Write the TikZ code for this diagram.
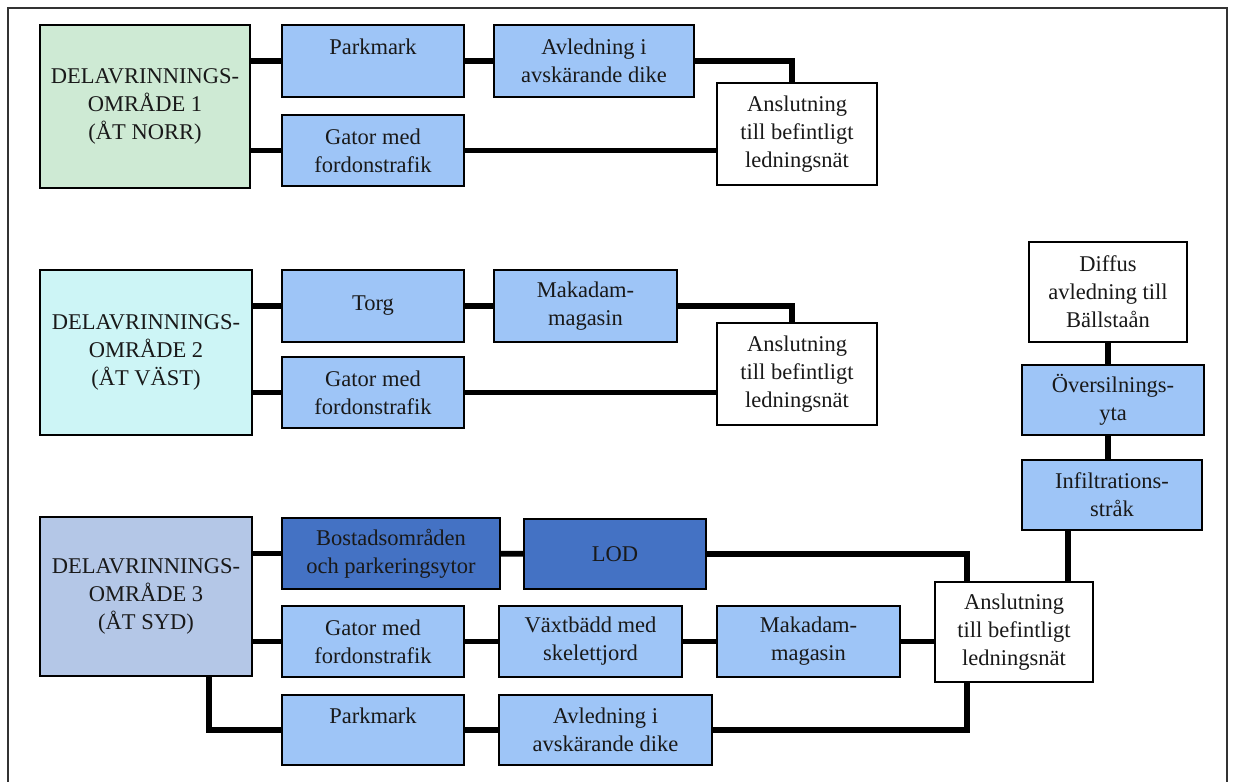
\documentclass[tikz,border=0pt]{standalone}
\usepackage{fontspec}
\setmainfont{Liberation Serif}
\usepackage{tikz}
\usetikzlibrary{calc}

\definecolor{areagreen}{RGB}{206,234,212}
\definecolor{areacyan}{RGB}{205,245,246}
\definecolor{areablue}{RGB}{180,199,231}
\definecolor{lightbox}{RGB}{158,197,247}
\definecolor{darkbox}{RGB}{68,114,196}

\begin{document}
\begin{tikzpicture}[x=0.2mm, y=-0.2mm,
        box/.style={draw, line width=1.3pt, align=center, inner sep=2pt,
            font=\fontsize{12.8}{16}\selectfont, text=black!90},
        sz/.style 2 args={minimum width=#1*0.2mm, minimum height=#2*0.2mm},
        light/.style={box, fill=lightbox},
        dark/.style={box, fill=darkbox},
        pipe/.style={line width=1.15mm}]
        \useasboundingbox (0, 0) rectangle (1235, 782);
        \draw [line width=0.7pt, black!80] (8, 782) -- (8, 8) -- (1227, 8) -- (1227, 782);

        \node [box, fill=areagreen, sz={210}{163}] (d1) at (145, 106.5) {DELAVRINNINGS-\\OMRÅDE 1\\(ÅT NORR)};
        \node [light, sz={182}{72}] (p1) at (373, 61) {Parkmark\\~};
        \node [light, sz={200}{72}] (a1) at (594, 61) {Avledning i\\avskärande dike};
        \node [light, sz={182}{71}] (g1) at (373, 150.5) {Gator med\\fordonstrafik};
        \node [box, fill=white, sz={160}{102}] (an1) at (797, 134) {Anslutning\\till befintligt\\ledningsnät};
        \coordinate (an1in) at ($(an1.north)+(-5, 0)$);
        \draw [pipe] (p1.west) -- (p1.west -| d1.east);
        \draw [pipe] (g1.west) -- (g1.west -| d1.east);
        \draw [pipe] (p1) -- (a1);
        \draw [pipe] (a1.east) -| (an1in);
        \draw [pipe] (g1.east) -- (g1.east -| an1.west);

        \node [box, fill=areacyan, sz={212}{165}] (d2) at (146, 352.5) {DELAVRINNINGS-\\OMRÅDE 2\\(ÅT VÄST)};
        \node [light, sz={182}{72}] (torg) at (373, 306) {Torg};
        \node [light, sz={183}{72}] (mak2) at (585.5, 306) {Makadam-\\magasin};
        \node [light, sz={182}{71}] (g2) at (373, 392.5) {Gator med\\fordonstrafik};
        \node [box, fill=white, sz={160}{102}] (an2) at (797, 374) {Anslutning\\till befintligt\\ledningsnät};
        \coordinate (an2in) at ($(an2.north)+(-5, 0)$);
        \draw [pipe] (torg.west) -- (torg.west -| d2.east);
        \draw [pipe] (g2.west) -- (g2.west -| d2.east);
        \draw [pipe] (torg) -- (mak2);
        \draw [pipe] (mak2.east) -| (an2in);
        \draw [pipe] (g2.east) -- (g2.east -| an2.west);

        \node [box, fill=white, sz={158}{100}] (diff) at (1108, 292) {Diffus\\avledning till\\Bällstaån};
        \node [light, sz={182}{70}] (over) at (1113, 400) {Översilnings-\\yta};
        \node [light, sz={180}{70}] (infil) at (1112, 495) {Infiltrations-\\stråk};
        \draw [pipe] (diff.south) -- (diff.south |- over.north);
        \draw [pipe] (over.south -| diff.south) -- (infil.north -| diff.south);

        \node [box, fill=areablue, sz={212}{159}] (d3) at (146, 596.5) {DELAVRINNINGS-\\OMRÅDE 3\\(ÅT SYD)};
        \node [dark, sz={218}{71}] (bost) at (391, 553.5) {Bostadsområden\\och parkeringsytor};
        \node [dark, sz={182}{70}] (lod) at (615, 554) {LOD};
        \node [light, sz={182}{71}] (g3) at (373, 641.5) {Gator med\\fordonstrafik};
        \node [light, sz={183}{71}] (vaxt) at (590.5, 641.5) {Växtbädd med\\skelettjord};
        \node [light, sz={183}{71}] (mak3) at (808.5, 641.5) {Makadam-\\magasin};
        \node [box, fill=white, sz={158}{100}] (an3) at (1014, 632) {Anslutning\\till befintligt\\ledningsnät};
        \node [light, sz={182}{70}] (pm3) at (373, 730) {Parkmark\\~};
        \node [light, sz={213}{70}] (av3) at (605.5, 730) {Avledning i\\avskärande dike};
        \coordinate (lodin) at ($(an3.north west)+(33, 0)$);
        \coordinate (avin) at ($(an3.south west)+(33, 0)$);
        \coordinate (infout) at ($(an3.north east)+(-26, 0)$);
        \coordinate (d3out) at ($(d3.south west)+(170, 0)$);
        \draw [pipe] (bost.west) -- (bost.west -| d3.east);
        \draw [pipe] (bost) -- (lod);
        \draw [pipe] (lod.east) -| (lodin);
        \draw [pipe] (g3.west) -- (g3.west -| d3.east);
        \draw [pipe] (g3) -- (vaxt);
        \draw [pipe] (vaxt) -- (mak3);
        \draw [pipe] (mak3.east) -- (mak3.east -| an3.west);
        \draw [pipe] (d3out) |- (pm3.west);
        \draw [pipe] (pm3) -- (av3);
        \draw [pipe] (av3.east) -| (avin);
        \draw [pipe] (infout) -- (infout |- infil.south);
    \end{tikzpicture}
\end{document}
